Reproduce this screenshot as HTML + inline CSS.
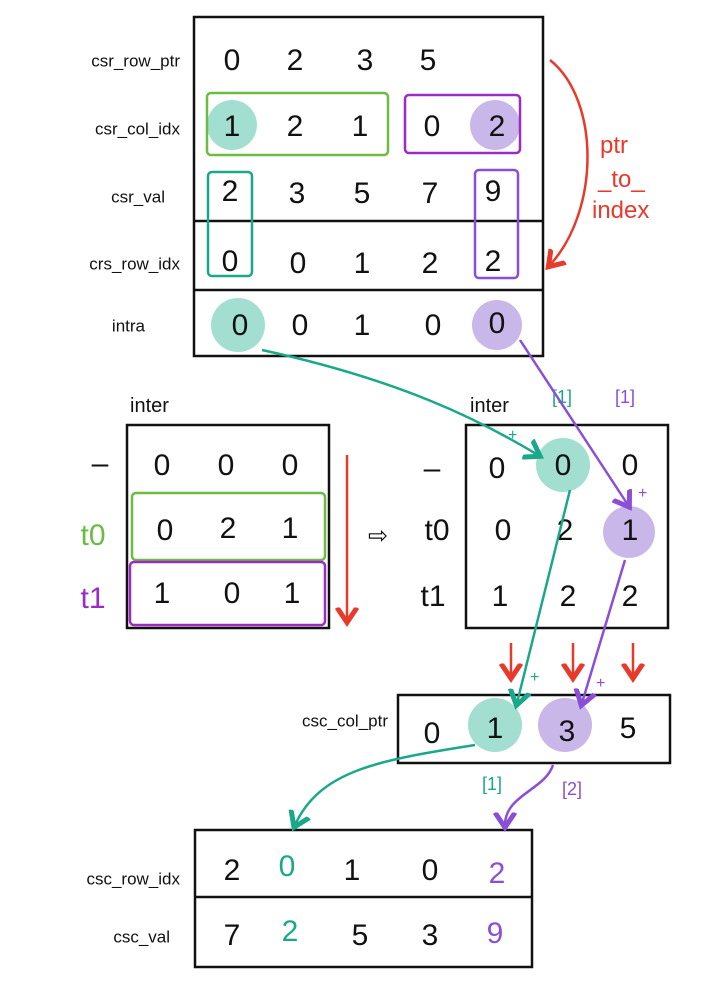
<!DOCTYPE html>
<html><head><meta charset="utf-8"><style>
html,body{margin:0;padding:0;background:#fff;}
svg{display:block;}
text{font-family:"Liberation Sans",sans-serif;}
.n{font-size:30px;text-anchor:middle;dominant-baseline:middle;fill:#111;}
.l{font-size:17px;text-anchor:end;dominant-baseline:middle;fill:#111;}
</style></head><body>
<svg width="704" height="987" viewBox="0 0 704 987" xmlns="http://www.w3.org/2000/svg">
<defs>
<marker id="at" markerWidth="10" markerHeight="10" refX="5" refY="5" orient="auto"><path d="M0,1 L6,5 L0,9" fill="none" stroke="#1aa88a" stroke-width="2"/></marker>
<marker id="ap" markerWidth="10" markerHeight="10" refX="5" refY="5" orient="auto"><path d="M0,1 L6,5 L0,9" fill="none" stroke="#8a4fd6" stroke-width="2"/></marker>
<marker id="ar" markerWidth="10" markerHeight="10" refX="5" refY="5" orient="auto"><path d="M0,1 L6,5 L0,9" fill="none" stroke="#e83a2a" stroke-width="2"/></marker>
</defs>
<g fill="none" stroke="#111" stroke-width="2.5">
<rect x="194" y="17" width="349" height="339"/>
<line x1="194" y1="221" x2="543" y2="221"/>
<line x1="194" y1="290" x2="543" y2="290"/>
<rect x="127" y="425" width="202" height="203"/>
<rect x="466" y="425" width="202" height="203"/>
<rect x="398" y="695" width="272" height="68"/>
<rect x="195" y="830" width="337" height="137"/>
<line x1="195" y1="897" x2="532" y2="897"/>
</g>
<!-- circles -->
<g stroke="none">
<circle cx="232" cy="125" r="25" fill="#a2dfd0"/>
<circle cx="495" cy="125" r="25" fill="#cab7ea"/>
<circle cx="238" cy="325" r="27" fill="#a2dfd0"/>
<circle cx="497" cy="325" r="25" fill="#cab7ea"/>
<circle cx="563" cy="465" r="27" fill="#a2dfd0"/>
<circle cx="629" cy="532" r="26" fill="#cab7ea"/>
<circle cx="495" cy="725" r="27" fill="#a2dfd0"/>
<circle cx="565" cy="725" r="27" fill="#cab7ea"/>
</g>
<!-- highlight rects -->
<g fill="none" stroke-width="2.5">
<rect x="207" y="93" width="181" height="62" rx="4" stroke="#6cbb45"/>
<rect x="405" y="95" width="115" height="58" rx="4" stroke="#9a2bc4"/>
<rect x="208" y="172" width="44" height="104" rx="4" stroke="#1aa88a"/>
<rect x="475" y="170" width="43" height="108" rx="4" stroke="#8a4fd6"/>
<rect x="132" y="493" width="193" height="67" rx="4" stroke="#6cbb45"/>
<rect x="130" y="562" width="195" height="63" rx="4" stroke="#9a2bc4"/>
</g>
<!-- top labels -->
<text class="l" x="180" y="62">csr_row_ptr</text>
<text class="l" x="180" y="130">csr_col_idx</text>
<text class="l" x="165" y="198">csr_val</text>
<text class="l" x="180" y="265">crs_row_idx</text>
<text class="l" x="145" y="327">intra</text>
<!-- top values -->
<g class="n">
<text class="n" x="232" y="62">0</text><text class="n" x="295" y="62">2</text><text class="n" x="365" y="62">3</text><text class="n" x="428" y="62">5</text>
<text class="n" x="232" y="128">1</text><text class="n" x="295" y="128">2</text><text class="n" x="360" y="128">1</text><text class="n" x="432" y="128">0</text><text class="n" x="497" y="128">2</text>
<text class="n" x="230" y="193">2</text><text class="n" x="297" y="195">3</text><text class="n" x="362" y="195">5</text><text class="n" x="430" y="195">7</text><text class="n" x="493" y="193">9</text>
<text class="n" x="230" y="263">0</text><text class="n" x="298" y="265">0</text><text class="n" x="362" y="265">1</text><text class="n" x="430" y="265">2</text><text class="n" x="493" y="263">2</text>
<text class="n" x="240" y="327">0</text><text class="n" x="300" y="327">0</text><text class="n" x="362" y="327">1</text><text class="n" x="433" y="327">0</text><text class="n" x="497" y="325">0</text>
</g>
<!-- red arc -->
<path d="M550,60 C600,100 600,210 550,265" fill="none" stroke="#e83a2a" stroke-width="2.5" marker-end="url(#ar)"/>
<text x="600" y="153" font-size="24" fill="#e83a2a">ptr</text>
<text x="598" y="187" font-size="24" fill="#e83a2a">_to_</text>
<text x="592" y="218" font-size="24" fill="#e83a2a">index</text>
<!-- left inter -->
<text x="130" y="412" font-size="20" fill="#111">inter</text>
<text class="n" x="100" y="465">–</text>
<text class="n" x="93" y="537" style="fill:#6cbb45">t0</text>
<text class="n" x="93" y="600" style="fill:#9a2bc4">t1</text>
<text class="n" x="162" y="467">0</text><text class="n" x="226" y="467">0</text><text class="n" x="290" y="467">0</text>
<text class="n" x="165" y="532">0</text><text class="n" x="228" y="530">2</text><text class="n" x="290" y="530">1</text>
<text class="n" x="162" y="595">1</text><text class="n" x="232" y="595">0</text><text class="n" x="292" y="595">1</text>
<path d="M347,455 L347,620" stroke="#e83a2a" stroke-width="2.5" marker-end="url(#ar)"/>
<text class="n" x="378" y="537" style="font-size:24px">⇨</text>
<!-- right inter -->
<text x="470" y="412" font-size="20" fill="#111">inter</text>
<text x="552" y="403" font-size="18" fill="#1aa88a">[1]</text>
<text x="615" y="403" font-size="18" fill="#8a4fd6">[1]</text>
<text class="n" x="432" y="470">–</text>
<text class="n" x="437" y="532">t0</text>
<text class="n" x="433" y="598">t1</text>
<text class="n" x="497" y="470">0</text><text class="n" x="563" y="467">0</text><text class="n" x="630" y="467">0</text>
<text class="n" x="503" y="532">0</text><text class="n" x="565" y="532">2</text><text class="n" x="630" y="532">1</text>
<text class="n" x="500" y="598">1</text><text class="n" x="568" y="598">2</text><text class="n" x="630" y="598">2</text>
<!-- small red arrows -->
<g stroke="#e83a2a" stroke-width="2.5">
<line x1="511" y1="643" x2="511" y2="676" marker-end="url(#ar)"/>
<line x1="573" y1="643" x2="573" y2="676" marker-end="url(#ar)"/>
<line x1="633" y1="643" x2="633" y2="676" marker-end="url(#ar)"/>
</g>
<!-- csc_col_ptr -->
<text class="l" x="388" y="722">csc_col_ptr</text>
<text class="n" x="432" y="735">0</text><text class="n" x="495" y="730">1</text><text class="n" x="567" y="733">3</text><text class="n" x="628" y="730">5</text>
<text x="482" y="790" font-size="18" fill="#1aa88a">[1]</text>
<text x="562" y="795" font-size="18" fill="#8a4fd6">[2]</text>
<!-- bottom -->
<text class="l" x="180" y="880">csc_row_idx</text>
<text class="l" x="170" y="938">csc_val</text>
<text class="n" x="232" y="872">2</text><text class="n" x="287" y="868" style="fill:#1aa88a">0</text><text class="n" x="352" y="872">1</text><text class="n" x="430" y="872">0</text><text class="n" x="497" y="875" style="fill:#8a4fd6">2</text>
<text class="n" x="232" y="937">7</text><text class="n" x="290" y="933" style="fill:#1aa88a">2</text><text class="n" x="360" y="937">5</text><text class="n" x="430" y="937">3</text><text class="n" x="495" y="935" style="fill:#8a4fd6">9</text>
<!-- connectors -->
<g fill="none" stroke-width="2.5">
<path d="M262,350 C400,380 480,420 538,455" stroke="#1aa88a" marker-end="url(#at)"/>
<path d="M570,490 L517,703" stroke="#1aa88a" marker-end="url(#at)"/>
<path d="M475,745 C380,760 320,770 295,825" stroke="#1aa88a" marker-end="url(#at)"/>
<path d="M520,340 L628,505" stroke="#8a4fd6" marker-end="url(#ap)"/>
<path d="M625,560 L582,703" stroke="#8a4fd6" marker-end="url(#ap)"/>
<path d="M553,765 C545,790 505,795 505,825" stroke="#8a4fd6" marker-end="url(#ap)"/>
</g>
<g font-size="16">
<text x="508" y="440" fill="#1aa88a">+</text>
<text x="638" y="498" fill="#8a4fd6">+</text>
<text x="530" y="682" fill="#1aa88a">+</text>
<text x="596" y="688" fill="#8a4fd6">+</text>
</g>
</svg>
</body></html>
